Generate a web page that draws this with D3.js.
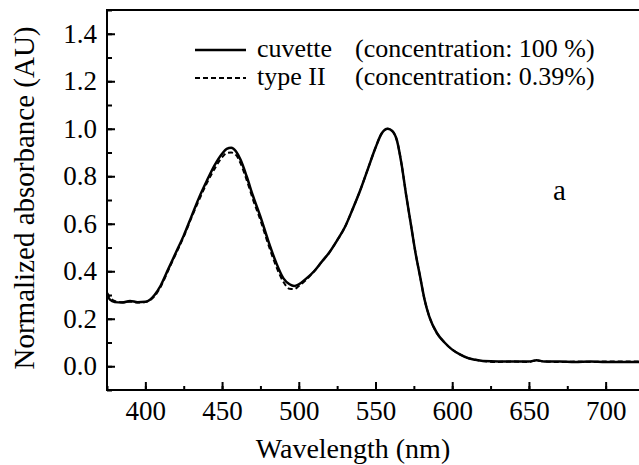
<!DOCTYPE html>
<html>
<head>
<meta charset="utf-8">
<script src="https://cdn.jsdelivr.net/npm/d3@7"></script>
</head>
<body style="margin:0">
<script>
// wavelength (nm), shared by both spectra
const wavelength = [375, 377, 380, 385, 390, 395, 400, 403, 406, 410, 415, 420, 425, 430, 435, 440, 445, 450,
  453, 456, 459, 462, 466, 470, 475, 480, 485, 490, 494, 497, 500, 505, 510, 515, 520, 525, 530, 535, 540, 545, 550,
  554, 558, 561, 564, 567, 570, 573, 576, 579, 582, 585, 590, 595, 600,
  605, 610, 615, 620, 630, 640, 650, 655, 660, 670, 680, 690, 700, 710, 725];
const cuvette = [0.30, 0.28, 0.27, 0.268, 0.275, 0.27, 0.272, 0.28, 0.30, 0.34, 0.41, 0.48, 0.55, 0.63, 0.71, 0.78, 0.845, 0.895,
  0.915, 0.92, 0.905, 0.87, 0.80, 0.72, 0.63, 0.53, 0.44, 0.37, 0.345, 0.338, 0.345, 0.37, 0.40, 0.44, 0.48, 0.53, 0.585, 0.66, 0.74, 0.83, 0.92,
  0.98, 1.0, 0.99, 0.95, 0.85, 0.72, 0.60, 0.48, 0.38, 0.28, 0.21, 0.14, 0.10, 0.07,
  0.05, 0.035, 0.027, 0.022, 0.02, 0.02, 0.02, 0.025, 0.02, 0.02, 0.018, 0.02, 0.018, 0.018, 0.018];
const typeII = [0.31, 0.29, 0.275, 0.27, 0.272, 0.268, 0.27, 0.278, 0.295, 0.335, 0.405, 0.475, 0.545, 0.625, 0.70, 0.77, 0.83, 0.88,
  0.898, 0.90, 0.89, 0.855, 0.785, 0.705, 0.615, 0.515, 0.425, 0.355, 0.326, 0.325, 0.338, 0.365, 0.40, 0.44, 0.48, 0.53, 0.585, 0.66, 0.74, 0.83, 0.92,
  0.98, 1.0, 0.99, 0.95, 0.85, 0.72, 0.60, 0.48, 0.38, 0.28, 0.21, 0.14, 0.10, 0.07,
  0.05, 0.035, 0.027, 0.022, 0.018, 0.02, 0.018, 0.025, 0.02, 0.018, 0.02, 0.018, 0.02, 0.02, 0.02];

const xTicks = [400, 450, 500, 550, 600, 650, 700];
const yTicks = [0.0, 0.2, 0.4, 0.6, 0.8, 1.0, 1.2, 1.4];
const legendNames = ["cuvette", "type II"];
const legendNotes = ["(concentration: 100 %)", "(concentration: 0.39%)"];

const width = 639, height = 465;
const plot = { left: 107, right: 644, top: 10, bottom: 390 };
const serif = "'Liberation Serif', 'Times New Roman', serif";

const svg = d3.select("body")
  .append("svg")
  .attr("width", width)
  .attr("height", height)
  .style("font-family", serif);

const x = d3.scaleLinear().domain([375, 725]).range([plot.left, plot.right]);
const y = d3.scaleLinear().domain([-0.1, 1.5]).range([plot.bottom, plot.top]);

//minor ticks first, majors over them
svg.append("g")
  .attr("transform", "translate(0," + plot.bottom + ")")
  .call(d3.axisBottom(x).tickValues(d3.range(375, 726, 25)).tickSize(-4).tickFormat(""))
  .call(g => g.select(".domain").remove());

svg.append("g")
  .attr("transform", "translate(" + plot.left + ",0)")
  .call(d3.axisLeft(y).tickValues(d3.range(-0.1, 1.51, 0.1)).tickSize(-5).tickFormat(""))
  .call(g => g.select(".domain").remove());

const xAxis = svg.append("g")
  .attr("transform", "translate(0," + plot.bottom + ")")
  .call(d3.axisBottom(x).tickValues(xTicks).tickSize(-8).tickPadding(11));

const yAxis = svg.append("g")
  .attr("transform", "translate(" + plot.left + ",0)")
  .call(d3.axisLeft(y).tickValues(yTicks).tickSize(-8).tickPadding(10).tickFormat(d3.format(".1f")));

//tick labels: serif set as inline style so nothing overrides it
[xAxis, yAxis].forEach(g => {
  g.attr("font-family", null).attr("font-size", null);
  g.select(".domain").remove();
  g.selectAll("text")
    .style("font-family", serif)
    .style("font-size", "27px")
    .attr("fill", "#000");
});
xAxis.attr("text-anchor", null)
  .selectAll("text").attr("x", function () { return -this.getComputedTextLength() / 2; });
yAxis.attr("text-anchor", null)
  .selectAll("text").attr("x", function () { return -10 - this.getComputedTextLength(); });
svg.selectAll(".tick line").attr("stroke", "#000").attr("stroke-width", 2);

//frame
svg.append("rect")
  .attr("x", plot.left)
  .attr("y", plot.top)
  .attr("width", plot.right - plot.left)
  .attr("height", plot.bottom - plot.top)
  .attr("fill", "none")
  .attr("stroke", "#000")
  .attr("stroke-width", 2);

//spectra
const line = (values) => d3.line()
  .x((d, i) => x(wavelength[i]))
  .y(d => y(d))
  .curve(d3.curveMonotoneX)(values);

svg.append("path")
  .attr("d", line(cuvette))
  .attr("fill", "none")
  .attr("stroke", "#000")
  .attr("stroke-width", 2.5);

svg.append("path")
  .attr("d", line(typeII))
  .attr("fill", "none")
  .attr("stroke", "#000")
  .attr("stroke-width", 2)
  .attr("stroke-dasharray", "5,3");

//legend
legendNames.forEach((name, i) => {
  const ly = 50 + i * 28;
  svg.append("line")
    .attr("x1", 195).attr("x2", 246)
    .attr("y1", ly).attr("y2", ly)
    .attr("stroke", "#000")
    .attr("stroke-width", i === 0 ? 2.5 : 2)
    .attr("stroke-dasharray", i === 0 ? null : "5,3");
  svg.append("text")
    .attr("x", 257)
    .attr("y", ly + 7)
    .style("font-family", serif)
    .style("font-size", "26px")
    .text(name);
  svg.append("text")
    .attr("x", 355)
    .attr("y", ly + 7)
    .style("font-family", serif)
    .style("font-size", "26px")
    .text(legendNotes[i]);
});

svg.append("text")
  .attr("x", 553)
  .attr("y", 200)
  .style("font-family", serif)
  .style("font-size", "29px")
  .text("a");

//axis titles
const xTitle = svg.append("text")
  .attr("y", 458)
  .style("font-family", serif)
  .style("font-size", "28px")
  .text("Wavelength (nm)");
xTitle.attr("x", 353 - xTitle.node().getComputedTextLength() / 2);

const yTitle = svg.append("g")
  .attr("transform", "translate(34,198) rotate(-90)")
  .append("text")
  .attr("y", 0)
  .style("font-family", serif)
  .style("font-size", "29px")
  .text("Normalized absorbance (AU)");
yTitle.attr("x", -yTitle.node().getComputedTextLength() / 2);
</script>
</body>
</html>
